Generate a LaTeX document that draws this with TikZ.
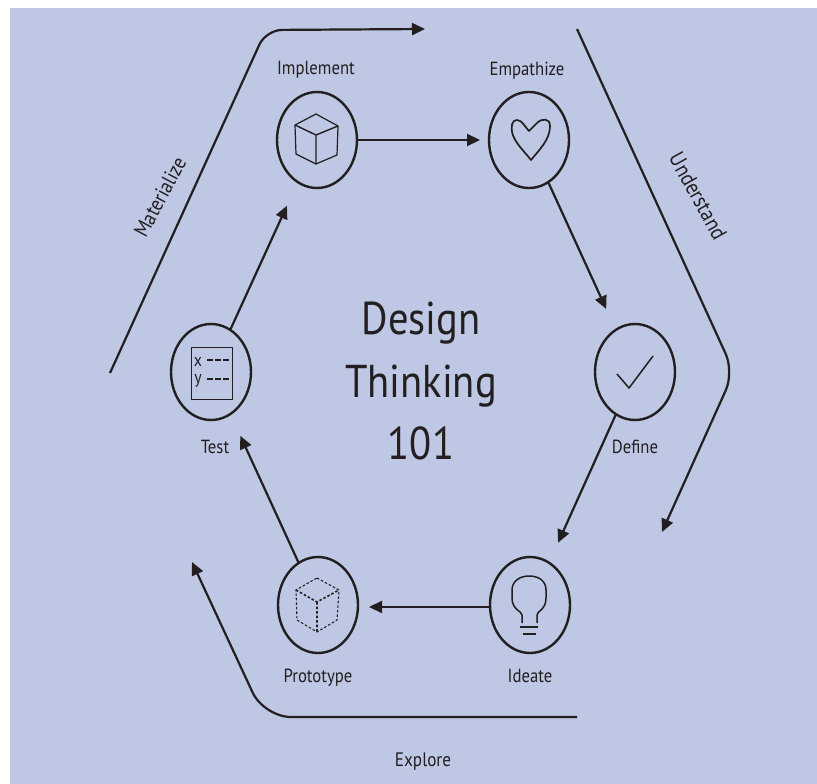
\documentclass[tikz,border=0pt]{standalone}
\usepackage{fontspec}
\setmainfont[FakeStretch=0.88]{PT Sans}
\usetikzlibrary{shapes.geometric,arrows.meta}
\definecolor{panel}{HTML}{BEC7E4}
\definecolor{ink}{HTML}{231F20}
\tikzset{
  stage/.style={draw=ink,ellipse,line width=2.4pt,minimum width=80pt,minimum height=96pt,inner sep=0pt,outer sep=0pt},
  lab/.style={text=ink,font=\fontsize{19}{22}\selectfont,inner sep=0pt},
  side/.style={text=ink,font=\fontsize{21}{24}\selectfont,inner sep=0pt},
  title/.style={text=ink,font=\fontsize{46}{62.5}\selectfont,align=center,inner sep=0pt},
  arr/.style={draw=ink,line width=2.2pt,-{Triangle[length=13pt,width=12pt]}},
  flow/.style={draw=ink,line width=2.2pt,-{Triangle[length=13pt,width=12pt]}},
  icon/.style={draw=ink,line width=1.2pt,line join=round},
  dashicon/.style={draw=ink,line width=1.1pt,dash pattern=on 2.5pt off 2pt},
}
\begin{document}
\begin{tikzpicture}[x=1pt,y=-1pt]
\useasboundingbox (0,0) rectangle (817,784);
\fill[panel] (10,8) rectangle (817,784);
% stages
\node[stage] (impl) at (317,140) {};
\node[stage] (emp) at (529,140) {};
\node[stage] (def) at (635,372) {};
\node[stage] (ide) at (530,605) {};
\node[stage] (pro) at (318,605) {};
\node[stage] (tst) at (211,372) {};
% labels
\node[lab] (limpl) at (316,70) {Implement};
\node[lab] (lemp) at (527,71) {Empathize};
\node[lab] (ldef) at (635,447) {Define};
\node[lab] (lide) at (530,676) {Ideate};
\node[lab] (lpro) at (318,678) {Prototype};
\node[lab] (ltst) at (215,447) {Test};
\node[title] (ttl) at (421,381) {Design\\Thinking\\101};
\node[side,rotate=62] (smat) at (160,197) {Materialize};
\node[side,rotate=-61,font=\fontsize{22}{24}\selectfont] (sund) at (698,196) {Understand};
\node[side,font=\fontsize{19.5}{22}\selectfont] (sexp) at (423,762) {Explore};
% connectors
\draw[flow,shorten >=9pt] (impl) -- (emp);
\draw[flow,shorten >=23pt] (emp) -- (def);
\draw[flow,shorten >=22pt] (def) -- (ide);
\draw[flow,shorten >=11pt] ([yshift=-2pt]ide.west) -- ([yshift=-2pt]pro.east);
\draw[flow,shorten >=24pt] (pro) -- (tst);
\draw[flow,shorten >=26pt] (tst) -- (impl);
% outer arrows
\coordinate (m0) at (110,373); \coordinate (m1) at (266,30); \coordinate (m2) at (425,29);
\coordinate (u0) at (577,29); \coordinate (u1) at (734,372); \coordinate (u2) at (662,532);
\coordinate (e0) at (577,717); \coordinate (e1) at (264,717); \coordinate (e2) at (192,562);
\draw[arr,rounded corners=16pt] (m0) -- (m1) -- (m2);
\draw[arr,rounded corners=20pt] (u0) -- (u1) -- (u2);
\draw[arr,rounded corners=27pt] (e0) -- (e1) -- (e2);
% solid cube
\draw[icon] (316,114) -- (338,126) -- (337,155) -- (316,164) -- (296,154) -- (295,125) -- cycle;
\draw[icon,line width=1.4pt] (295,125) -- (316,135) -- (338,126) (316,135) -- (316,164);
% heart
\draw[icon,line width=1.7pt] (529,131) .. controls (525,127) and (522,120) .. (517,120)
  .. controls (512,120) and (511,126) .. (512,132)
  .. controls (514,142) and (524,151) .. (531,160)
  .. controls (539,150) and (550,140) .. (550,126)
  .. controls (550,118) and (542,118) .. (537,123) -- cycle;
% check
\draw[icon,line width=1.5pt] (617,374) -- (629,388) -- (653,356);
% bulb
\draw[icon,line width=1.5pt] (522,623) -- (522,615) .. controls (522,611) and (512,610) .. (512,598)
  -- (512,590) .. controls (512,581) and (520,576) .. (529,576)
  .. controls (539,576) and (546,581) .. (546,590) -- (546,598)
  .. controls (546,610) and (537,611) .. (537,615) -- (537,623);
\draw[icon,line width=1.5pt] (520,627) -- (538,627) (523,634) -- (536,634);
% dashed cube
\draw[dashicon] (317,578) -- (339,590) -- (337,620) -- (317,632) -- (297,620) -- (296,590) -- cycle;
\draw[dashicon,line width=1.6pt] (296,590) -- (317,602) -- (339,590) (317,602) -- (317,632);
% form
\draw[icon,line width=0.9pt] (191,347) rectangle (232,399);
\node[text=ink,font=\fontsize{18}{20}\selectfont,inner sep=0pt] (fx) at (198,362) {x};
\node[text=ink,font=\fontsize{18}{20}\selectfont,inner sep=0pt] (fy) at (198,381) {y};
\draw[draw=ink,line width=1.6pt,dash pattern=on 6pt off 2pt] (207,360) -- (229,360) (207,379) -- (229,379);
\end{tikzpicture}
\end{document}
